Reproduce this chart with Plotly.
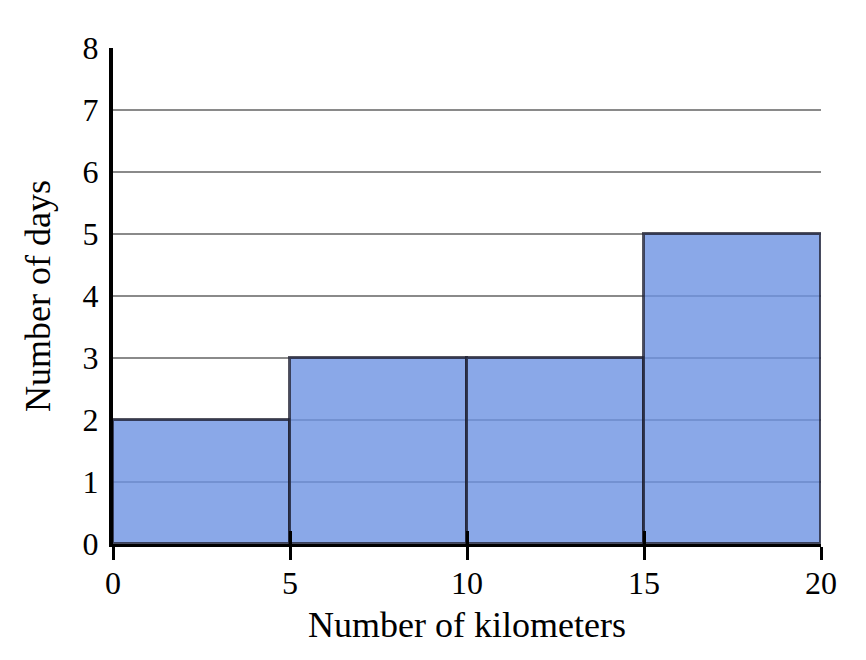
import plotly.graph_objects as go

bin_edges = [0, 5, 10, 15, 20]
counts = [2, 3, 3, 5]
x_ticks = [0, 5, 10, 15, 20]
y_ticks = [0, 1, 2, 3, 4, 5, 6, 7, 8]
x_title = "Number of kilometers"
y_title = "Number of days"

centers = [(a + b) / 2 for a, b in zip(bin_edges[:-1], bin_edges[1:])]
widths = [b - a for a, b in zip(bin_edges[:-1], bin_edges[1:])]

FONT = "Liberation Serif"

fig = go.Figure()
fig.add_trace(go.Bar(
    x=centers, y=counts, width=widths,
    marker=dict(color="rgba(109,146,226,0.8)",
                line=dict(color="rgba(30,30,45,0.75)", width=3)),
    showlegend=False, hoverinfo="skip",
))
# invisible trace to activate overlay axis for inner tick marks
fig.add_trace(go.Scatter(x=[bin_edges[0], bin_edges[-1]], y=[0, 0], xaxis="x2",
                         mode="markers", marker=dict(opacity=0), showlegend=False,
                         hoverinfo="skip"))

fig.update_layout(
    width=866, height=660,
    margin=dict(l=113, r=45, t=48, b=116),
    paper_bgcolor="white", plot_bgcolor="white",
    font=dict(family=FONT, color="black", size=32),
    bargap=0,
    xaxis=dict(
        range=[bin_edges[0], bin_edges[-1]],
        tickvals=x_ticks, ticktext=[str(v) for v in x_ticks],
        ticks="outside", ticklen=13, tickwidth=3, tickcolor="black",
        ticklabelstandoff=-4,
        showline=True, linecolor="black", linewidth=3,
        showgrid=False, zeroline=False,
        tickfont=dict(size=32, family=FONT),
        title=dict(text=x_title, font=dict(size=36, family=FONT), standoff=12),
    ),
    xaxis2=dict(
        range=[bin_edges[0], bin_edges[-1]], overlaying="x", side="bottom",
        tickvals=x_ticks, showticklabels=False,
        ticks="inside", ticklen=13, tickwidth=3, tickcolor="black",
        showgrid=False, zeroline=False, showline=False,
    ),
    yaxis=dict(
        range=[y_ticks[0], y_ticks[-1]],
        tickvals=y_ticks, ticktext=[str(v) for v in y_ticks],
        ticks="outside", ticklen=4, tickcolor="rgba(0,0,0,0)",
        showline=True, linecolor="black", linewidth=4,
        showgrid=True, gridcolor="#8a8a8a", gridwidth=2,
        zeroline=False,
        tickfont=dict(size=32, family=FONT),
        title=dict(text=y_title, font=dict(size=36, family=FONT), standoff=22),
    ),
)

fig.write_html("out.html")
